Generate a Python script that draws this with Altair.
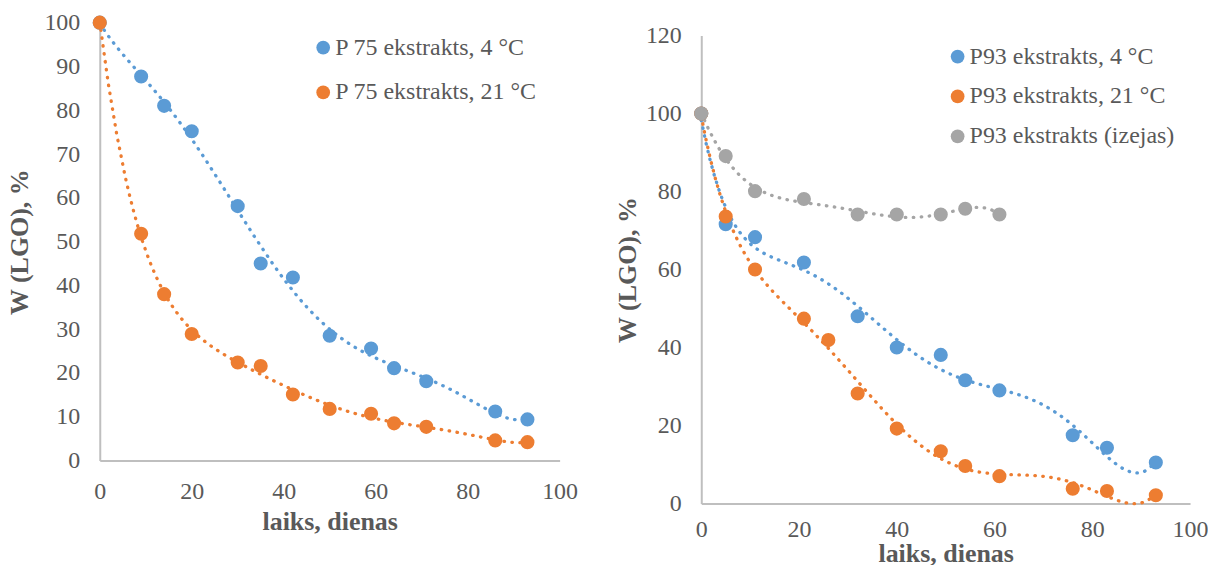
import altair as alt
import pandas as pd

FONT = "Liberation Serif"
TEXT = "#595959"
AXIS = "#BFBFBF"
BLUE, ORANGE, GRAY = "#5B9BD5", "#ED7D31", "#A5A5A5"

# --- P 75 extract: storage time (days) and LGO content (%) ---
p75_days = [0, 9, 14, 20, 30, 35, 42, 50, 59, 64, 71, 86, 93]
p75_4c = [100, 87.7, 81.0, 75.2, 58.1, 45.0, 41.8, 28.5, 25.6, 21.1, 18.1, 11.2, 9.4]
p75_21c = [100, 51.8, 38.0, 28.9, 22.4, 21.6, 15.1, 11.8, 10.7, 8.5, 7.7, 4.6, 4.2]
p75_names = ["P 75 ekstrakts, 4 °C", "P 75 ekstrakts, 21 °C"]

# --- P93 extract ---
p93_days_4c = [0, 5, 11, 21, 32, 40, 49, 54, 61, 76, 83, 93]
p93_4c = [100, 71.6, 68.3, 61.8, 48.0, 40.0, 38.1, 31.6, 29.0, 17.5, 14.3, 10.5]
p93_days_21c = [0, 5, 11, 21, 26, 32, 40, 49, 54, 61, 76, 83, 93]
p93_21c = [100, 73.6, 60.0, 47.4, 41.9, 28.2, 19.2, 13.4, 9.6, 7.0, 3.8, 3.2, 2.1]
p93_days_src = [0, 5, 11, 21, 32, 40, 49, 54, 61]
p93_src = [100, 89.1, 80.1, 78.1, 74.1, 74.1, 74.1, 75.6, 74.1]
p93_names = ["P93 ekstrakts, 4 °C", "P93 ekstrakts, 21 °C", "P93 ekstrakts (izejas)"]


def frame(pairs, names):
    rows = []
    for (days, vals), name in zip(pairs, names):
        rows += [{"day": d, "w": v, "series": name} for d, v in zip(days, vals)]
    return pd.DataFrame(rows)


def panel(df, names, colors, ymax, ystep, w, h, leg_x, leg_y, leg_row,
          x_lab_pad, x_title_pad, y_lab_pad, y_title_pad):
    x = alt.X("day:Q", title="laiks, dienas",
              scale=alt.Scale(domain=[0, 100], nice=False),
              axis=alt.Axis(values=list(range(0, 101, 20)), labelPadding=x_lab_pad,
                            titlePadding=x_title_pad, labelFlush=False))
    y = alt.Y("w:Q", title="W (LGO), %",
              scale=alt.Scale(domain=[0, ymax], nice=False),
              axis=alt.Axis(values=list(range(0, ymax + 1, ystep)), labelPadding=y_lab_pad,
                            titlePadding=y_title_pad))
    base = alt.Chart(df)
    # sixth-order polynomial trendline per series; the curves get their own
    # key so that their (hidden) stroke legend stays apart from the marker legend
    trend_keys = ["trend " + n for n in names]
    trend = base.transform_regression(
        "day", "w", method="poly", order=6, groupby=["series"]
    ).transform_calculate(curve="'trend ' + datum.series").mark_line(
        strokeDash=[0.5, 7.5], strokeCap="round", strokeWidth=3.3
    ).encode(
        x=x, y=y,
        stroke=alt.Stroke("curve:N", scale=alt.Scale(domain=trend_keys, range=colors),
                          legend=None),
    )
    pts = base.mark_circle(size=200, opacity=1).encode(
        x=x, y=y,
        color=alt.Color("series:N", scale=alt.Scale(domain=names, range=colors),
                        legend=alt.Legend(
                            title=None, orient="none", legendX=leg_x, legendY=leg_y,
                            symbolType="circle", symbolSize=190, symbolStrokeWidth=0,
                            labelFont=FONT, labelFontSize=24, labelColor=TEXT,
                            labelOffset=0, rowPadding=leg_row, padding=0,
                            labelLimit=400)),
    )
    return alt.layer(trend, pts).properties(width=w, height=h)


left_df = frame([(p75_days, p75_4c), (p75_days, p75_21c)], p75_names)
right_df = frame([(p93_days_4c, p93_4c), (p93_days_21c, p93_21c),
                  (p93_days_src, p93_src)], p93_names)

left = panel(left_df, p75_names, [BLUE, ORANGE], 100, 10, 461, 439,
             212, 13, 21, 19, 5, 20, 11)
right = panel(right_df, p93_names, [BLUE, ORANGE, GRAY], 120, 20, 490, 469,
              245, 22, 16, 14, -1, 20, 5)

# blank strip that drops the second panel a little lower
spacer = alt.Chart(pd.DataFrame({"a": [0]})).mark_rect(opacity=0).encode(
    x=alt.value(0), x2=alt.value(1), y=alt.value(0), y2=alt.value(1)
).properties(width=490, height=1)

right_col = alt.vconcat(spacer, right, spacing=0)

chart = alt.hconcat(left, right_col, spacing=37).resolve_scale(
    color="independent", stroke="independent"
).resolve_legend(color="independent").properties(
    padding={"left": 7, "top": 10, "right": 0, "bottom": 0}
).configure_view(stroke=None).configure_axis(
    grid=False, ticks=False, tickSize=0,
    domainColor=AXIS, domainWidth=2,
    labelFont=FONT, labelFontSize=24, labelColor=TEXT,
    titleFont=FONT, titleFontSize=26, titleFontWeight="bold", titleColor=TEXT,
)

chart.save("out.html", embed_options={"renderer": "svg", "actions": False})
